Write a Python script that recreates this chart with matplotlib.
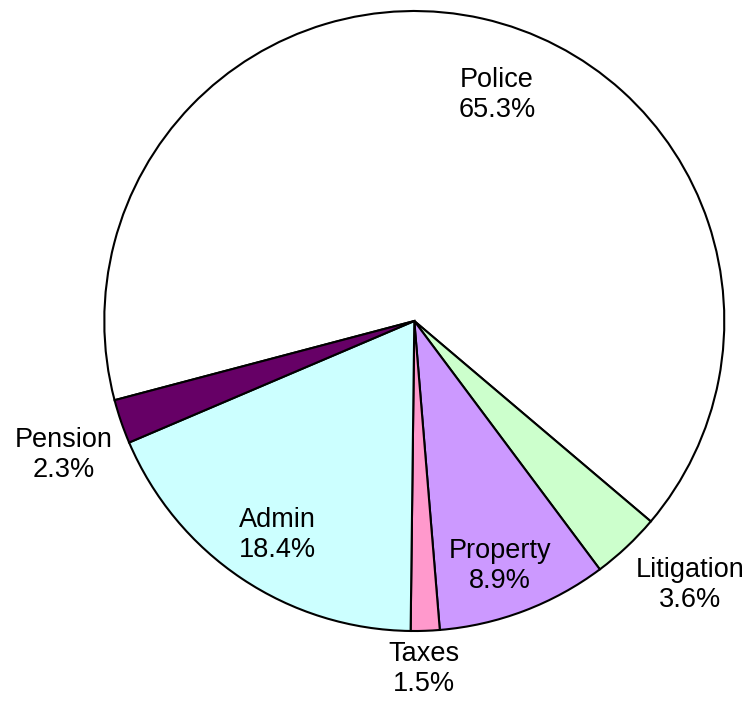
import matplotlib.pyplot as plt

plt.rcParams['font.family'] = ['Liberation Sans', 'DejaVu Sans']

# slices, clockwise starting from Police
labels = ['Police', 'Litigation', 'Property', 'Taxes', 'Admin', 'Pension']
shares = [65.3, 3.6, 8.9, 1.5, 18.4, 2.3]
colors = ['#FFFFFF', '#CCFFCC', '#CC99FF', '#FF99CC', '#CCFFFF', '#660066']

# label centres, in pie radius units
label_pos = [(0.266, 0.729), (0.889, -0.852), (0.276, -0.790),
             (0.031, -1.123), (-0.443, -0.690), (-1.131, -0.432)]

fig = plt.figure(figsize=(7.49, 7.05), dpi=100)
ax = fig.add_axes([0, 0, 1, 1])

ax.pie(shares, colors=colors, startangle=194.8, counterclock=False,
       radius=1.0, wedgeprops={'edgecolor': 'black', 'linewidth': 1.5})

for name, val, (x, y) in zip(labels, shares, label_pos):
    ax.text(x, y, f'{name}\n{val}%', ha='center', va='center',
            fontsize=19.5, linespacing=1.22)

# centre at pixel (414, 321), radius 310 px
ax.set_xlim(-414.3 / 310, (749 - 414.3) / 310)
ax.set_ylim(-(705 - 321) / 310, 321 / 310)
ax.set_aspect('auto')
ax.axis('off')

fig.savefig('out.png', dpi=100)
